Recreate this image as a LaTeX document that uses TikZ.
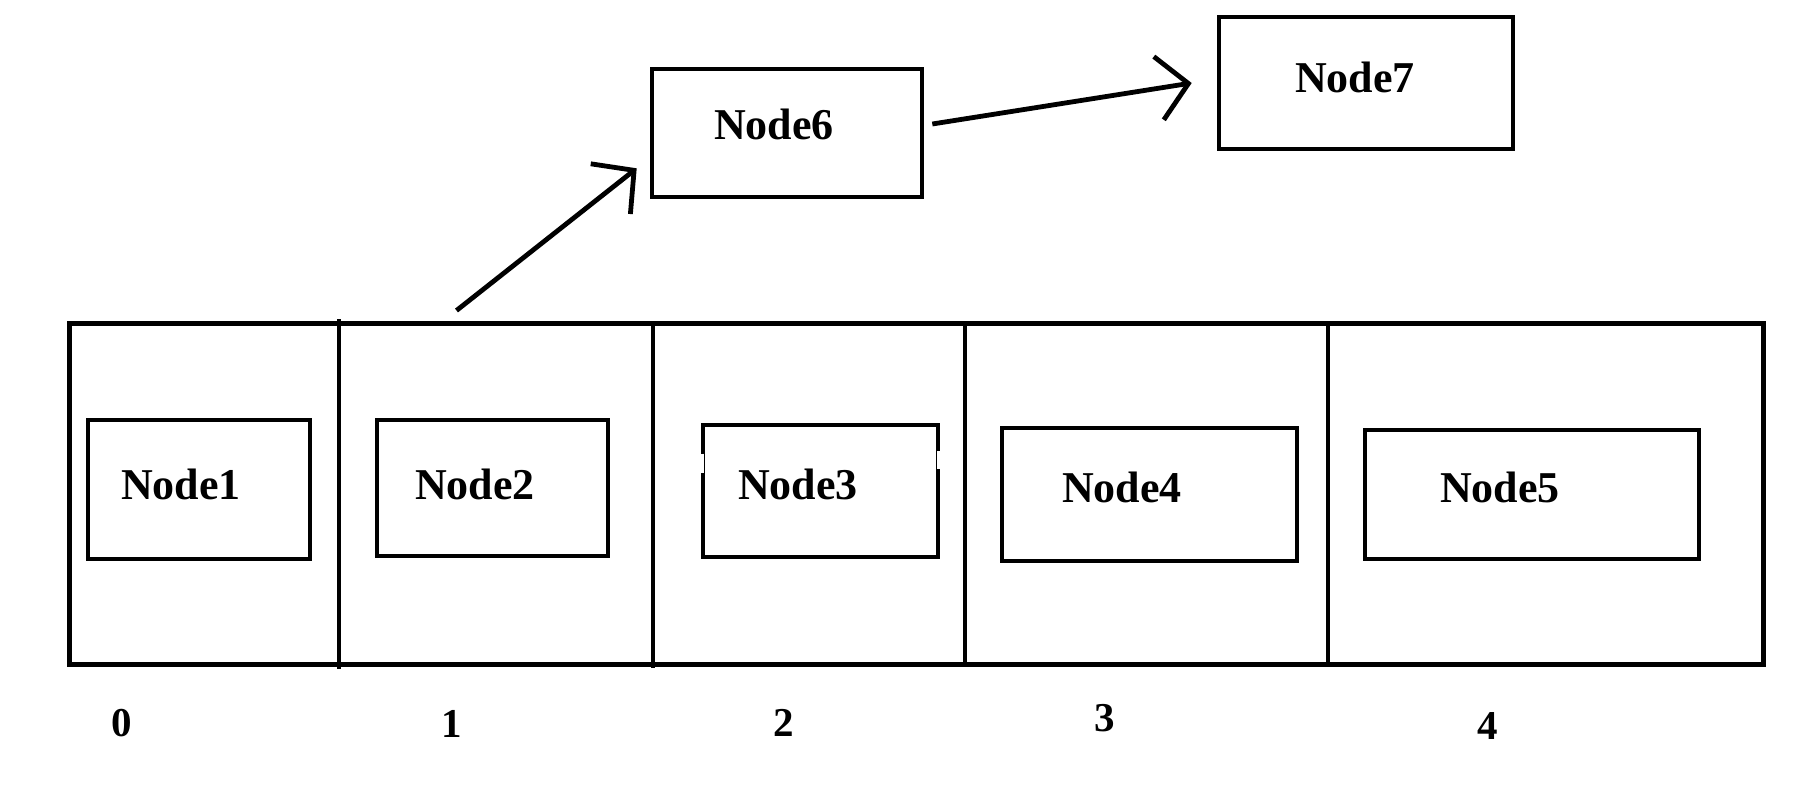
\documentclass[tikz,border=0pt]{standalone}
\usepackage{fontspec}
\setmainfont{Liberation Serif}
\usetikzlibrary{arrows.meta,calc}
\begin{document}
\begin{tikzpicture}[x=0.5pt,y=-0.5pt,
  frame/.style={draw, line width=2.5pt, inner sep=0pt},
  box/.style={draw, line width=2.3pt, inner sep=0pt},
  divider/.style={line width=1.8pt},
  lbl/.style={font=\fontsize{22}{26}\selectfont\bfseries, inner sep=0pt},
  idx/.style={font=\fontsize{20.5}{24}\selectfont\bfseries, inner sep=0pt},
  link/.style={line width=2.4pt, -{Straight Barb[length=15pt,width=32pt,line width=2.4pt]}}]
\useasboundingbox (0,0) rectangle (1800,798);

% array frame
\node[frame, minimum width=847pt, minimum height=170.5pt] (arr) at (916,493.5) {};
\draw[divider] (339,319) -- (339,669);
\draw[divider] (653,323) -- (653,668);
\draw[divider] (965,323) -- (965,664);
\draw[divider] (1328,323) -- (1328,664);

% inner boxes
\node[box, minimum width=111pt, minimum height=69.5pt] (n1) at (199,489.5) {};
\node[box, minimum width=115.5pt, minimum height=68pt] (n2) at (492.5,488) {};
\node[box, minimum width=117.5pt, minimum height=66pt] (n3) at (820.5,491) {};
\node[box, minimum width=147.5pt, minimum height=66.5pt] (n4) at (1149.5,494.5) {};
\node[box, minimum width=167pt, minimum height=64.5pt] (n5) at (1532,494.5) {};
\node[box, minimum width=135pt, minimum height=64pt] (n6) at (787,133) {};
\node[box, minimum width=147pt, minimum height=66pt] (n7) at (1366,83) {};

% small gaps in Node3 sides
\draw[white, line width=3.5pt] ($(n3.north west)+(0,31)$) -- ($(n3.north west)+(0,50)$);
\draw[white, line width=3.5pt] ($(n3.north east)+(0,28)$) -- ($(n3.north east)+(0,46)$);

% texts
\node[lbl] (t1) at (181,484) {Node1};
\node[lbl] (t2) at (475,484) {Node2};
\node[lbl] (t3) at (798,484) {Node3};
\node[lbl] (t4) at (1122,487) {Node4};
\node[lbl] (t5) at (1500,487) {Node5};
\node[lbl] (t6) at (774,124) {Node6};
\node[lbl] (t7) at (1355,77) {Node7};

% indices
\node[idx] (i0) at (122,723) {0};
\node[idx] (i1) at (452,724) {1};
\node[idx] (i2) at (784,723) {2};
\node[idx] (i3) at (1105,718) {3};
\node[idx] (i4) at (1488,726) {4};

% connectors
\coordinate (s1) at ($(arr.north west)+(390,-10)$);
\coordinate (e1) at ($(n6.south west)+(-13,-31)$);
\draw[link] (s1) -- (e1);
\coordinate (s2) at ($(n6.east)+(8,-9)$);
\coordinate (e2) at ($(n7.west)+(-25,0)$);
\draw[link] (s2) -- (e2);
\end{tikzpicture}
\end{document}
